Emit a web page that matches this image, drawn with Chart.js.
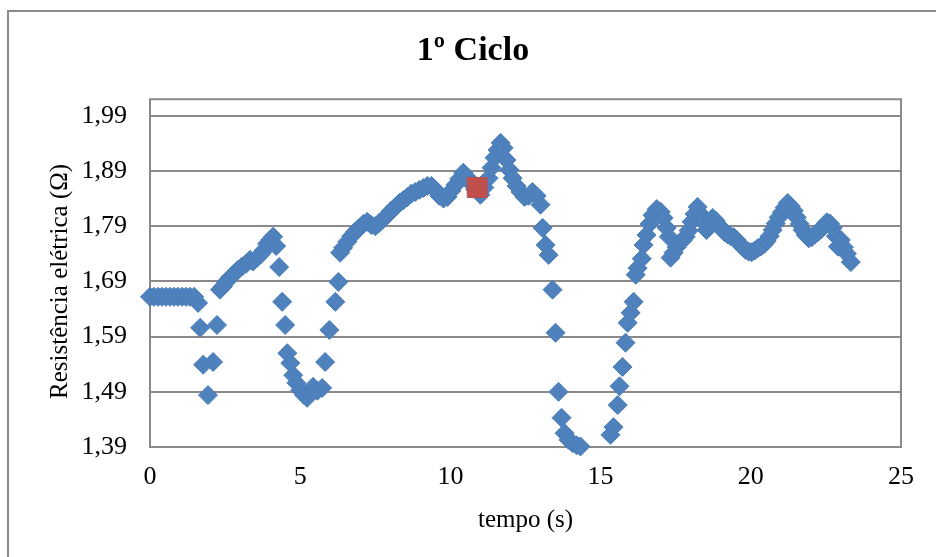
<!DOCTYPE html>
<html lang="pt">
<head>
<meta charset="utf-8">
<title>1º Ciclo</title>
<script src="https://cdn.jsdelivr.net/npm/chart.js@4.4.1/dist/chart.umd.min.js"></script>
<style>
    html, body { margin: 0; padding: 0; background: #fff; }
    #wrap { width: 936px; height: 557px; }
</style>
</head>
<body>
<div id="wrap"><canvas id="ciclo-chart" width="936" height="557"></canvas></div>
<script>
// tempo (s)
const timeSec = [
    0, 0.13, 0.27, 0.4, 0.53, 0.67, 0.8, 0.93, 1.07, 1.2, 1.33, 1.47, 1.6,
    1.67, 1.77, 1.93, 2.1, 2.23,
    2.33, 2.43, 2.53, 2.67, 2.8, 2.93, 3.07, 3.2, 3.33, 3.43, 3.57, 3.7, 3.8,
    3.9, 4.0, 4.1, 4.2, 4.3, 4.4, 4.5, 4.57, 4.67, 4.77, 4.87, 5.0, 5.13, 5.23,
    5.33, 5.43, 5.57, 5.73, 5.83, 5.97, 6.17, 6.27, 6.33,
    6.43, 6.57, 6.7, 6.83, 6.97, 7.1, 7.23, 7.37, 7.5, 7.63, 7.77, 7.9, 8.03,
    8.17, 8.3, 8.43, 8.57, 8.7, 8.83, 8.97, 9.1, 9.23, 9.37, 9.5, 9.63, 9.77,
    9.9, 10.03, 10.17, 10.3, 10.43, 10.57, 10.7, 10.83, 11.0, 11.13, 11.27,
    11.37, 11.47, 11.57, 11.67, 11.77, 11.87, 11.97, 12.07, 12.2, 12.33, 12.47,
    12.6, 12.73, 12.87, 13.0, 13.07, 13.17, 13.27, 13.4, 13.5, 13.6, 13.7,
    13.8, 13.93, 14.07, 14.2, 14.33,
    15.33, 15.43, 15.57, 15.63, 15.73, 15.83, 15.9, 16.0, 16.1, 16.17, 16.23,
    16.37, 16.43, 16.53, 16.63, 16.73, 16.87, 17.0, 17.1, 17.2, 17.27, 17.33,
    17.43, 17.53, 17.63, 17.73, 17.83, 17.93, 18.03, 18.13, 18.23, 18.33,
    18.43, 18.53, 18.63, 18.73, 18.83, 18.93, 19.03, 19.13, 19.23, 19.33,
    19.43, 19.53, 19.63, 19.73, 19.83, 19.93, 20.03, 20.13, 20.23, 20.33,
    20.43, 20.53, 20.63, 20.73, 20.83, 20.93, 21.03, 21.13, 21.23, 21.33,
    21.43, 21.53, 21.63, 21.73, 21.83, 21.93, 22.03, 22.13, 22.23, 22.33,
    22.43, 22.53, 22.63, 22.73, 22.83, 22.9, 23.0, 23.1, 23.2, 23.33
];

// Resistência elétrica (Ω)
const resistance = [
    1.662, 1.662, 1.662, 1.662, 1.662, 1.662, 1.662, 1.662, 1.662, 1.662, 1.662, 1.662, 1.651,
    1.606, 1.539, 1.484, 1.544, 1.611,
    1.675, 1.681, 1.689, 1.697, 1.704, 1.711, 1.717, 1.722, 1.729, 1.726, 1.733, 1.740, 1.747,
    1.758, 1.765, 1.771, 1.754, 1.716, 1.653, 1.611, 1.560, 1.542, 1.520, 1.506, 1.493, 1.484, 1.479,
    1.488, 1.499, 1.492, 1.497, 1.544, 1.602, 1.653, 1.689, 1.742,
    1.751, 1.762, 1.772, 1.780, 1.787, 1.794, 1.798, 1.792, 1.790, 1.796, 1.803, 1.810, 1.818,
    1.825, 1.832, 1.837, 1.843, 1.849, 1.852, 1.856, 1.859, 1.863, 1.863, 1.856, 1.845, 1.840,
    1.843, 1.854, 1.865, 1.876, 1.887, 1.878, 1.867, 1.856, 1.847, 1.860, 1.877,
    1.896, 1.914, 1.928, 1.941, 1.932, 1.910, 1.892, 1.877, 1.863, 1.852, 1.843,
    1.845, 1.852, 1.845, 1.829, 1.787, 1.756, 1.738, 1.675, 1.597, 1.490, 1.443,
    1.415, 1.403, 1.397, 1.393, 1.391,
    1.412, 1.426, 1.466, 1.500, 1.535, 1.579, 1.615, 1.633, 1.653, 1.702, 1.714,
    1.731, 1.756, 1.774, 1.794, 1.810, 1.821, 1.816, 1.805, 1.787, 1.771, 1.733,
    1.742, 1.752, 1.760, 1.764, 1.771, 1.782, 1.798, 1.812, 1.825, 1.812,
    1.797, 1.783, 1.792, 1.805, 1.800, 1.792, 1.785, 1.779, 1.775, 1.772,
    1.770, 1.765, 1.758, 1.752, 1.747, 1.744, 1.743, 1.746, 1.750, 1.753,
    1.757, 1.763, 1.772, 1.783, 1.795, 1.806, 1.815, 1.824, 1.832, 1.826,
    1.818, 1.806, 1.794, 1.783, 1.774, 1.768, 1.770, 1.775, 1.779, 1.784,
    1.791, 1.797, 1.795, 1.787, 1.772, 1.753, 1.765, 1.752, 1.740, 1.725
];

// highlighted reading
const markTime = [10.89];
const markValue = [1.86];

const xTicks = [0, 5, 10, 15, 20, 25];
const yTicks = [1.39, 1.49, 1.59, 1.69, 1.79, 1.89, 1.99];

(function () {
    "use strict";

    const serif = "'Liberation Serif', 'Times New Roman', serif";
    const lineGray = "#8a8a8a";
    const plotTopValue = 2.02;

    const toPoints = (xs, ys) => xs.map((x, i) => ({ x: x, y: ys[i] }));

    // outer frame + plot area box
    const frame = {
        id: "frame",
        beforeDraw(chart) {
            const ctx = chart.ctx;
            ctx.save();
            ctx.fillStyle = "#fff";
            ctx.fillRect(0, 0, chart.width, chart.height);
            ctx.strokeStyle = lineGray;
            ctx.lineWidth = 2;
            ctx.beginPath();
            ctx.moveTo(8, chart.height);
            ctx.lineTo(8, 11);
            ctx.lineTo(chart.width, 11);
            ctx.stroke();
            ctx.restore();
        },
        beforeDatasetsDraw(chart) {
            const { ctx, chartArea } = chart;
            const top = chart.scales.y.getPixelForValue(plotTopValue);
            ctx.save();
            ctx.strokeStyle = lineGray;
            ctx.lineWidth = 2;
            ctx.strokeRect(
                chartArea.left,
                top,
                chartArea.right - chartArea.left,
                chartArea.bottom - top
            );
            ctx.restore();
        },
    };

    const chart = new Chart(document.getElementById("ciclo-chart"), {
        type: "scatter",
        data: {
            datasets: [
                {
                    label: "marca",
                    data: toPoints(markTime, markValue),
                    pointStyle: "rect",
                    pointRadius: 14,
                    backgroundColor: "#C0504D",
                    borderColor: "#BE4B48",
                    borderWidth: 1,
                    clip: false,
                },
                {
                    label: "Resistência",
                    data: toPoints(timeSec, resistance),
                    pointStyle: "rectRot",
                    pointRadius: 9.5,
                    backgroundColor: "#4F81BD",
                    borderColor: "#4A7EBB",
                    borderWidth: 1,
                    clip: false,
                },
            ],
        },
        options: {
            responsive: false,
            animation: false,
            devicePixelRatio: 1,
            layout: {
                padding: { left: 45, right: 35, top: 0, bottom: 0 },
            },
            plugins: {
                legend: { display: false },
                tooltip: { enabled: false },
                title: {
                    display: true,
                    text: "1º Ciclo",
                    color: "#000",
                    font: { family: serif, size: 34, weight: "bold", lineHeight: 1.2 },
                    padding: { top: 31, bottom: 44 },
                },
            },
            scales: {
                x: {
                    type: "linear",
                    min: 0,
                    max: 25,
                    afterBuildTicks: (scale) => {
                        scale.ticks = xTicks.map((v) => ({ value: v }));
                    },
                    afterFit: (scale) => {
                        scale.height = 110;
                    },
                    grid: { display: false, drawTicks: false },
                    border: { display: false },
                    ticks: {
                        color: "#000",
                        padding: 15,
                        font: { family: serif, size: 26 },
                        maxRotation: 0,
                    },
                    title: {
                        display: true,
                        text: "tempo (s)",
                        color: "#000",
                        font: { family: serif, size: 25, lineHeight: 1.2 },
                        padding: { top: 0, bottom: 22 },
                    },
                },
                y: {
                    type: "linear",
                    min: 1.39,
                    max: 1.99,
                    afterBuildTicks: (scale) => {
                        scale.ticks = yTicks.map((v) => ({ value: v }));
                    },
                    afterFit: (scale) => {
                        scale.width = 105;
                    },
                    grid: { color: lineGray, lineWidth: 2, drawTicks: false },
                    border: { display: false },
                    ticks: {
                        color: "#000",
                        padding: 23,
                        font: { family: serif, size: 26 },
                        callback: (v) => Number(v).toFixed(2).replace(".", ","),
                    },
                    title: {
                        display: true,
                        text: "Resistência elétrica (Ω)",
                        color: "#000",
                        font: { family: serif, size: 25, lineHeight: 1.2 },
                        padding: { top: 0, bottom: 0 },
                    },
                },
            },
        },
        plugins: [frame],
    });
})();
</script>
</body>
</html>
